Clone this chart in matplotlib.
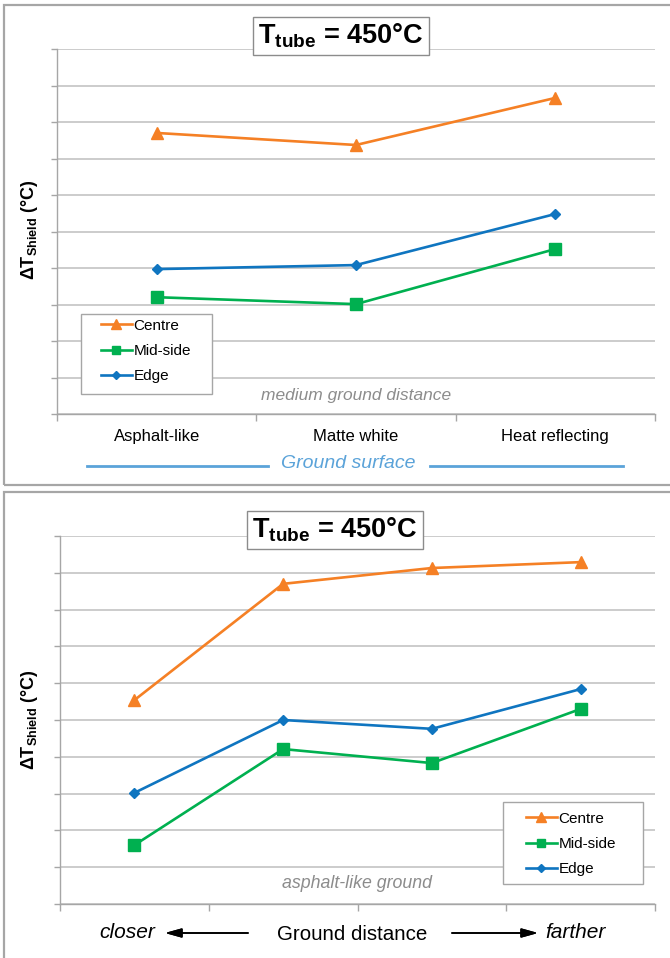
import matplotlib
matplotlib.use("Agg")
import matplotlib.pyplot as plt
from matplotlib.patches import Rectangle
from matplotlib.lines import Line2D

plt.rcParams['font.family'] = ['Liberation Sans', 'DejaVu Sans']
plt.rcParams['mathtext.fontset'] = 'custom'
plt.rcParams['mathtext.rm'] = 'Liberation Sans'
plt.rcParams['mathtext.bf'] = 'Liberation Sans:bold'
plt.rcParams['mathtext.it'] = 'Liberation Sans:italic'

# данные: верхний график (тип поверхности)
surfaces = ["Asphalt-like", "Matte white", "Heat reflecting"]
centre_surface = [7.70, 7.37, 8.66]
mid_surface = [3.20, 3.01, 4.52]
edge_surface = [3.97, 4.08, 5.48]

# данные: нижний график (расстояние до земли)
distances = ["d1", "d2", "d3", "d4"]
centre_dist = [5.54, 8.70, 9.13, 9.29]
mid_dist = [1.60, 4.21, 3.83, 5.30]
edge_dist = [3.02, 5.00, 4.76, 5.84]

series_names = ["Centre", "Mid-side", "Edge"]
colors = ["#F58025", "#00B050", "#0F75C0"]
markers = ["^", "s", "D"]
msizes = [9, 8.5, 5.5]

W, H = 670, 958
fig = plt.figure(figsize=(W / 100, H / 100), dpi=100)


def px(x, y):
    # пиксели -> координаты фигуры
    return x / W, 1 - y / H


def make_axes(left, top, right, bottom):
    return fig.add_axes([left / W, 1 - bottom / H, (right - left) / W, (bottom - top) / H])


def style_axes(ax, n):
    ax.set_xlim(-0.5, n - 0.5)
    ax.set_ylim(0, 10)
    ax.set_yticks(range(0, 11))
    ax.set_yticklabels([])
    ax.grid(axis='y', color='#BFBFBF', linewidth=1.1)
    ax.set_axisbelow(True)
    for s in ['top', 'right']:
        ax.spines[s].set_visible(False)
    for s in ['left', 'bottom']:
        ax.spines[s].set_color('#A6A6A6')
        ax.spines[s].set_linewidth(1.0)
    ax.tick_params(axis='y', length=4, color='#A6A6A6', width=1.0)
    ax.set_xticks([i + 0.5 for i in range(-1, n)])
    ax.set_xticklabels([])
    ax.tick_params(axis='x', length=5, color='#A6A6A6', width=1.0)


def draw_series(ax, data_list):
    handles = []
    for vals, name, c, m, ms in zip(data_list, series_names, colors, markers, msizes):
        h, = ax.plot(range(len(vals)), vals, color=c, marker=m, markersize=ms,
                     linewidth=1.9, label=name, clip_on=False)
        handles.append(h)
    return handles


def panel_frame(top, bottom):
    fig.add_artist(Rectangle(px(4, bottom), (W + 40) / W, (bottom - top) / H,
                             transform=fig.transFigure, fill=False,
                             edgecolor='#A6A6A6', linewidth=1.6))


def title_box(cx, cy):
    fig.text(*px(cx, cy), r"$\mathbf{T}_{\mathbf{tube}}$" + " = 450°C",
             fontsize=19.5, fontweight='bold', ha='center', va='center',
             bbox=dict(boxstyle='square,pad=0.18', facecolor='white',
                       edgecolor='#8C8C8C', linewidth=1.0), zorder=10)


def ylabel(cy):
    fig.text(*px(30, cy), r"$\mathbf{\Delta T}_{\mathbf{Shield}}$" + " (°C)",
             fontsize=13, fontweight='bold', rotation=90, ha='center', va='center')


def legend(ax, handles, box, hx, mid_y):
    # рамка легенды рисуется отдельно, чтобы повторить отступы Excel
    x0, y0, x1, y1 = box
    ax.add_patch(Rectangle(px(x0, y1), (x1 - x0) / W, (y1 - y0) / H,
                           transform=fig.transFigure, facecolor='white',
                           edgecolor='#A6A6A6', linewidth=1.0, zorder=4,
                           clip_on=False))
    leg = ax.legend(handles=handles, loc='center left', bbox_to_anchor=px(hx, mid_y),
                    bbox_transform=fig.transFigure, fontsize=11, frameon=False,
                    handlelength=2.0, handletextpad=0.12, labelspacing=0.75,
                    borderpad=0, borderaxespad=0, markerscale=0.75)
    leg.set_zorder(5)


# ---------- верхний график ----------
panel_frame(5, 485)
ax1 = make_axes(57, 49, 655, 414)
style_axes(ax1, len(surfaces))
h1 = draw_series(ax1, [centre_surface, mid_surface, edge_surface])
for i, lab in enumerate(surfaces):
    ax1.text(i, -0.42, lab, ha='center', va='top', fontsize=12)
ax1.text(1, 0.5, "medium ground distance", ha='center', va='center',
         fontsize=12.5, style='italic', color='#8C8C8C')
legend(ax1, h1, (81, 314, 212, 394), 101, 351)
title_box(341, 36)
ylabel(230)

# подпись "Ground surface" с линиями
fig.text(*px(348, 464), "Ground surface", ha='center', va='center',
         fontsize=14, style='italic', color='#5BA3D9')
for x0, x1 in [(87, 268), (430, 623)]:
    fig.add_artist(Line2D([x0 / W, x1 / W], [1 - 466 / H, 1 - 466 / H],
                          transform=fig.transFigure, color='#5BA3D9', linewidth=2.0))

# ---------- нижний график ----------
panel_frame(492, 1000)
ax2 = make_axes(60, 536, 655, 904)
style_axes(ax2, len(distances))
h2 = draw_series(ax2, [centre_dist, mid_dist, edge_dist])
ax2.text(1.5, 0.55, "asphalt-like ground", ha='center', va='center',
         fontsize=12.8, style='italic', color='#8C8C8C')
legend(ax2, h2, (503, 802, 643, 884), 526, 844)
title_box(335, 530)
ylabel(720)

# подпись оси расстояния со стрелками
fig.text(*px(127, 932), "closer", ha='center', va='center', fontsize=15, style='italic')
fig.text(*px(352, 934), "Ground distance", ha='center', va='center', fontsize=14.8)
fig.text(*px(575, 932), "farther", ha='center', va='center', fontsize=15, style='italic')
arrow = dict(arrowstyle='-|>,head_length=0.9,head_width=0.25', color='black',
             linewidth=1.2, mutation_scale=11, shrinkA=0, shrinkB=0)
fig.add_artist(plt.annotate("", xy=px(165, 933), xytext=px(248, 933),
                            xycoords='figure fraction', textcoords='figure fraction',
                            arrowprops=arrow))
fig.add_artist(plt.annotate("", xy=px(538, 933), xytext=px(452, 933),
                            xycoords='figure fraction', textcoords='figure fraction',
                            arrowprops=arrow))

fig.savefig("out.png", dpi=100, facecolor='white')
